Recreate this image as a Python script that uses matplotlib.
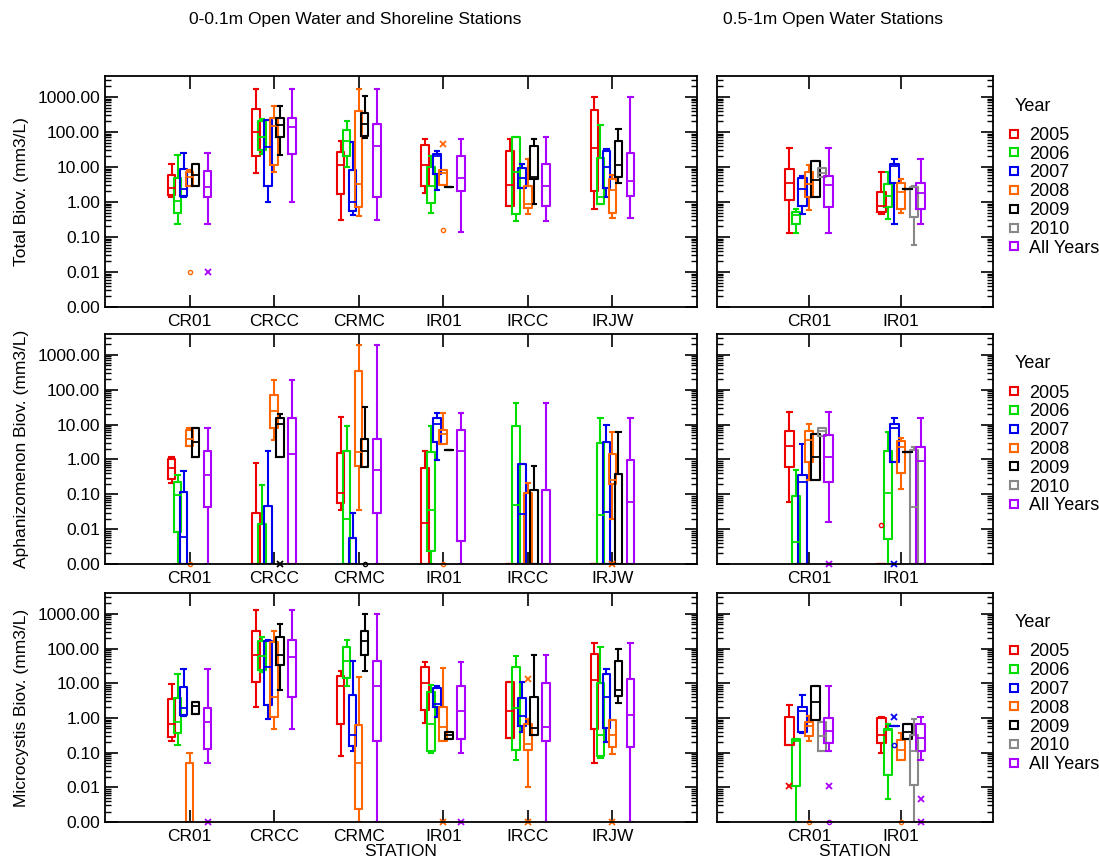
import numpy as np
import matplotlib.pyplot as plt
from matplotlib.lines import Line2D

plt.rcParams['font.family'] = ['Liberation Sans', 'DejaVu Sans']

YEARS = ['2005', '2006', '2007', '2008', '2009', '2010', 'All Years']
YEAR_COLORS = ['#ee0000', '#00dd00', '#0000ee', '#ff6600', '#000000', '#888888', '#aa00ff']
SHORE_STATIONS = ['CR01', 'CRCC', 'CRMC', 'IR01', 'IRCC', 'IRJW']
OPEN_STATIONS = ['CR01', 'IR01']
Y_TICKS = [0, 0.01, 0.1, 1, 10, 100, 1000]
Y_TICK_LABELS = ['0.00', '0.01', '0.10', '1.00', '10.00', '100.00', '1000.00']
ROW_LABELS = ['Total Biov. (mm3/L)', 'Aphanizomenon Biov. (mm3/L)', 'Microcystis Biov. (mm3/L)']

# box stats per station, one entry per year (2005..2010, All Years):
# (low whisker, q1, median, q3, high whisker); None = no samples that year
total_shore = {
    'CR01': [(1.4, 1.6, 2.5, 5.9, 12), (0.24, 0.49, 1.1, 5.0, 22), (1.35, 1.5, 2.3, 8.9, 26),
             (2.8, 2.8, 5.1, 7.4, 8.3), (2.8, 2.8, 5.9, 12, 12), None, (0.24, 1.4, 2.7, 7.8, 26)],
    'CRCC': [(6.6, 21, 98, 460, 1740), (23, 31, 71, 200, 240), (1.0, 2.9, 38, 214, 225),
             (7.4, 11.5, 145, 250, 540), (22, 74, 162, 250, 540), None, (1.0, 23, 137, 250, 1740)],
    'CRMC': [(0.30, 1.7, 11.5, 27, 54), (9.8, 20, 54, 115, 200), (0.42, 0.55, 0.97, 8.3, 51),
             (0.41, 0.74, 3.2, 390, 1740), (69, 78, 167, 350, 1100), None, (0.30, 1.35, 41, 170, 1740)],
    'IR01': [(1.85, 2.9, 11.5, 43, 63), (0.47, 0.91, 2.8, 10.2, 21), (2.2, 6.3, 20, 23, 29),
             (3.1, 3.1, 6.6, 8.3, 8.3), (2.6, 2.6, 2.6, 2.6, 2.6), None, (0.14, 2.1, 4.8, 21, 63)],
    'IRCC': [(0.77, 0.77, 3.1, 29, 63), (0.29, 0.46, 7.4, 74, 74), (2.5, 2.5, 4.8, 9.1, 12.3),
             (0.46, 0.69, 0.87, 2.8, 17), (0.85, 4.6, 5.1, 40, 63), None, (0.29, 0.77, 2.8, 12.3, 74)],
    'IRJW': [(0.62, 2.0, 35, 415, 980), (0.87, 0.87, 1.4, 18, 160), (1.4, 2.5, 10.2, 29, 32),
             (0.36, 0.47, 2.2, 4.5, 5.9), (3.4, 5.3, 11.5, 54, 124), None, (0.36, 1.5, 4.1, 26, 980)],
}
total_open = {
    'CR01': [(0.13, 1.14, 3.6, 8.7, 34), (0.13, 0.23, 0.43, 0.53, 0.63), (0.46, 0.77, 2.3, 4.8, 5.7),
             (0.59, 1.4, 3.3, 7.4, 11.5), (1.4, 1.4, 4.3, 15, 15), (5.1, 5.1, 6.9, 9.1, 9.1),
             (0.13, 0.70, 3.1, 5.7, 34)],
    'IR01': [(0.46, 0.53, 0.78, 1.9, 7.1), (0.32, 0.74, 1.5, 3.3, 7.1), (0.23, 3.5, 10.5, 12.5, 17),
             (0.47, 0.62, 1.9, 3.6, 4.5), (2.4, 2.4, 2.4, 2.4, 2.4), (0.059, 0.38, 2.6, 2.6, 2.8),
             (0.23, 0.63, 1.8, 3.6, 17)],
}
aphan_shore = {
    'CR01': [(0.21, 0.27, 0.56, 1.05, 1.2), (0, 0.0083, 0.097, 0.23, 0.35), (0, 0, 0.0059, 0.12, 0.48),
             (2.5, 2.5, 3.9, 7.2, 7.8), (1.2, 1.2, 3.1, 7.8, 7.8), None, (0, 0.042, 0.35, 1.8, 7.8)],
    'CRCC': [(0, 0, 0, 0.030, 0.79), (0, 0, 0, 0.014, 0.18), (0, 0, 0, 0.045, 1.8),
             (3.5, 8.1, 25, 69, 190), (1.2, 1.2, 10.5, 15, 20), None, (0, 0, 1.4, 15, 190)],
    'CRMC': [(0.036, 0.056, 0.11, 1.5, 16), (0, 0, 0.019, 1.8, 9.3), (0, 0, 0, 0.0055, 0.029),
             (0.036, 0.63, 1.6, 350, 1900), (0.59, 0.59, 1.8, 3.9, 32), None, (0, 0.029, 0.49, 3.9, 1900)],
    'IR01': [(0, 0, 0.015, 0.56, 1.7), (0, 0.0023, 0.036, 1.6, 9.0), (0.95, 3.2, 10.5, 15, 21),
             (2.7, 2.7, 5.4, 6.9, 21), (1.9, 1.9, 1.9, 1.9, 1.9), None, (0, 0.0047, 1.8, 6.9, 21)],
    'IRCC': [(0, 0, 0, 0, 0), (0, 0, 0.050, 9.3, 43), (0, 0, 0.027, 0.74, 0.74),
             (0, 0, 0, 0.11, 0.21), (0, 0, 0, 0.13, 0.63), None, (0, 0, 0, 0.13, 43)],
    'IRJW': [(0, 0, 0, 0, 0), (0, 0, 0.026, 2.9, 15), (0, 0, 0.032, 3.1, 10),
             (0.019, 0.20, 0.26, 1.4, 6.0), (0, 0, 0, 0.39, 6.0), None, (0, 0, 0.061, 0.95, 15)],
}
aphan_open = {
    'CR01': [(0.059, 0.60, 2.5, 6.5, 23), (0, 0, 0.0044, 0.087, 0.49), (0, 0, 0.22, 0.35, 2.8),
             (0.25, 0.85, 3.5, 6.5, 10.5), (0.26, 0.26, 1.2, 5.5, 5.5), (4.7, 4.7, 6.5, 8.1, 8.1),
             (0.016, 0.23, 1.2, 4.9, 23)],
    'IR01': [(0, 0, 0, 0, 0), (0, 0.0051, 0.11, 1.8, 6.2), (0.85, 0.85, 8.1, 10.5, 15.5),
             (0.14, 0.41, 2.2, 3.3, 4.2), (1.6, 1.6, 1.6, 1.6, 1.6), (0, 0, 0.043, 1.9, 2.2),
             (0, 0, 0.89, 2.2, 15.5)],
}
micro_shore = {
    'CR01': [(0.22, 0.29, 0.65, 3.5, 9.6), (0.17, 0.37, 0.76, 3.7, 19), (1.1, 1.2, 1.9, 7.7, 26),
             (0, 0, 0, 0.050, 0.098), (1.3, 1.3, 2.2, 2.9, 2.9), None, (0.050, 0.13, 0.76, 1.9, 26)],
    'CRCC': [(2.1, 10.7, 63, 315, 1300), (21, 24.5, 59, 163, 210), (0.95, 2.3, 30, 170, 180),
             (0.47, 1.05, 4.0, 150, 330), (6.2, 34, 63, 210, 510), None, (0.47, 4.0, 56, 180, 1300)],
    'CRMC': [(0.078, 0.65, 8.1, 16, 23), (8.1, 14.5, 43, 110, 180), (0.11, 0.16, 0.32, 4.7, 45),
             (0, 0.0023, 0.051, 0.63, 15), (22, 67, 162, 315, 1000), None, (0, 0.21, 8.1, 45, 1000)],
    'IR01': [(0.71, 1.7, 10, 30, 41), (0.097, 0.11, 0.67, 5.5, 9.1), (1.05, 2.1, 2.6, 7.3, 8.1),
             (0.22, 0.22, 0.55, 2.1, 27), (0.25, 0.25, 0.32, 0.39, 0.39), None, (0.097, 0.25, 1.55, 8.5, 41)],
    'IRCC': [(0.26, 0.26, 1.6, 10.7, 11.2), (0.063, 0.12, 1.9, 30, 59), (0.39, 0.60, 1.1, 3.7, 11.2),
             (0.010, 0.12, 0.18, 0.68, 0.95), (0.33, 0.33, 0.51, 4.0, 63), None, (0, 0.22, 0.55, 10, 63)],
    'IRJW': [(0.051, 0.49, 12.6, 70, 141), (0.069, 0.080, 0.32, 10.2, 110), (0.20, 0.52, 4.0, 18, 26),
             (0.093, 0.15, 0.33, 0.85, 0.85), (2.7, 4.2, 6.5, 45, 98), None, (0, 0.15, 1.2, 13, 141)],
}
micro_open = {
    'CR01': [(0.17, 0.17, 0.17, 1.05, 2.4), (0, 0.011, 0.22, 0.25, 0.25), (0.37, 0.39, 1.6, 2.1, 4.5),
             (0.21, 0.30, 0.57, 0.76, 1.1), (0.85, 0.85, 2.8, 8.5, 8.5), (0.11, 0.11, 0.30, 0.76, 0.76),
             (0.11, 0.19, 0.41, 1.0, 8.5)],
    'IR01': [(0.10, 0.19, 0.33, 1.0, 1.05), (0.0047, 0.022, 0.45, 0.49, 0.65), (0.60, 0.60, 0.60, 0.60, 0.60),
             (0.060, 0.060, 0.12, 0.23, 0.37), (0.25, 0.25, 0.39, 0.65, 0.65), (0, 0.012, 0.115, 0.33, 0.95),
             (0.060, 0.115, 0.27, 0.65, 1.05)],
}

# outliers: (station, year index, value, marker)
total_shore_out = [('CR01', 3, 0.01, 'o'), ('CR01', 6, 0.01, 'x'), ('IR01', 3, 46, 'x'), ('IR01', 3, 0.16, 'o')]
total_open_out = []
aphan_shore_out = [('CR01', 3, 0, 'o'), ('CRCC', 4, 0, 'x'), ('CRMC', 4, 0, 'o'),
                   ('IR01', 3, 0, 'o'), ('IRJW', 3, 0, 'x')]
aphan_open_out = [('CR01', 6, 0, 'x'), ('IR01', 0, 0.013, 'o'), ('IR01', 2, 0, 'x')]
micro_shore_out = [('CR01', 6, 0, 'x'), ('IR01', 3, 0, 'x'), ('IR01', 6, 0, 'x'), ('IRCC', 3, 13, 'x'),
                   ('IRCC', 3, 0, 'x'), ('IRJW', 3, 0, 'x')]
micro_open_out = [('CR01', 0, 0.011, 'x'), ('CR01', 3, 0, 'o'), ('CR01', 6, 0.011, 'x'), ('CR01', 6, 0, 'o'),
                  ('IR01', 2, 1.05, 'x'), ('IR01', 2, 0.17, 'o'), ('IR01', 3, 0, 'o'),
                  ('IR01', 6, 0.0047, 'x'), ('IR01', 6, 0, 'x')]

SLOT = 0.071
BOX_W = 0.09


def fwd(y):
    return np.log10(np.maximum(y, 1e-3))


def inv(y):
    return 10.0 ** y


def draw_panel(ax, stations, stats, outliers):
    for i, color in enumerate(YEAR_COLORS):
        bstats, pos = [], []
        for j, st in enumerate(stations):
            s = stats[st][i]
            if s is None:
                continue
            lo, q1, med, q3, hi = s
            bstats.append(dict(whislo=lo, q1=q1, med=med, q3=q3, whishi=hi, fliers=[]))
            pos.append(j + 1 + (i - 3) * SLOT)
        if not bstats:
            continue
        lp = dict(color=color, lw=1.5)
        ax.bxp(bstats, positions=pos, widths=BOX_W, capwidths=0.05, showfliers=False,
               boxprops=lp, whiskerprops=lp, capprops=lp, medianprops=dict(color=color, lw=1.3),
               manage_ticks=False)
    for st, i, val, mk in outliers:
        x = stations.index(st) + 1 + (i - 3) * SLOT
        if mk == 'o':
            ax.plot(x, val, 'o', ms=3, mfc='none', mec=YEAR_COLORS[i], mew=1, clip_on=False)
        else:
            ax.plot(x, val, 'x', ms=5, color=YEAR_COLORS[i], mew=1.3, clip_on=False)

    ax.set_yscale('function', functions=(fwd, inv))
    ax.set_ylim(0, 10 ** 3.6)
    ax.set_xlim(0, len(stations) + 1)
    ax.set_xticks(range(1, len(stations) + 1))
    ax.set_xticklabels(stations, fontsize=12.5)
    ax.set_yticks(Y_TICKS)
    ax.set_yticklabels(Y_TICK_LABELS, fontsize=12.5)
    minors = [m * 10.0 ** k for k in range(-3, 4) for m in range(2, 10) if m * 10.0 ** k < 10 ** 3.6]
    ax.set_yticks(minors, minor=True)
    ax.yaxis.set_minor_formatter(plt.NullFormatter())
    ax.tick_params(axis='y', which='major', direction='in', left=True, right=True, length=9, width=1.2)
    ax.tick_params(axis='y', which='minor', direction='in', left=True, right=True, length=4.5, width=1)
    ax.tick_params(axis='x', which='major', direction='in', top=True, bottom=True, length=9, width=1.2, pad=5)
    ax.tick_params(axis='x', which='minor', bottom=False, top=False)
    for sp in ax.spines.values():
        sp.set_linewidth(1.3)


fig = plt.figure(figsize=(10.99, 8.67), dpi=100)

rows = [(0.6459, 0.2664), (0.3495, 0.2653), (0.0519, 0.2641)]
shore_data = [(total_shore, total_shore_out), (aphan_shore, aphan_shore_out), (micro_shore, micro_shore_out)]
open_data = [(total_open, total_open_out), (aphan_open, aphan_open_out), (micro_open, micro_open_out)]

handles = [Line2D([], [], ls='none', marker='s', ms=6, mfc='none', mec=c, mew=1.5) for c in YEAR_COLORS]

for r, (bottom, height) in enumerate(rows):
    ax_l = fig.add_axes([0.0955, bottom, 0.5387, height])
    ax_r = fig.add_axes([0.6524, bottom, 0.2511, height])
    draw_panel(ax_l, SHORE_STATIONS, *shore_data[r])
    draw_panel(ax_r, OPEN_STATIONS, *open_data[r])
    ax_r.tick_params(axis='y', which='both', labelleft=False)
    fig.text(0.02, bottom + height / 2, ROW_LABELS[r], rotation=90, ha='center', va='center', fontsize=12.5)

    ax_r.text(1.08, 0.87, 'Year', transform=ax_r.transAxes, ha='left', va='center', fontsize=13)
    ax_r.legend(handles, YEARS, loc='upper left', bbox_to_anchor=(1.045, 0.78), frameon=False,
                fontsize=13, borderpad=0, borderaxespad=0, labelspacing=0.1,
                handlelength=1.0, handletextpad=0.3)
    if r == 2:
        ax_l.set_xlabel('STATION', fontsize=12.5, labelpad=0)
        ax_r.set_xlabel('STATION', fontsize=12.5, labelpad=0)

fig.text(0.323, 0.977, '0-0.1m Open Water and Shoreline Stations', ha='center', va='center', fontsize=12.5)
fig.text(0.758, 0.977, '0.5-1m Open Water Stations', ha='center', va='center', fontsize=12.5)

fig.savefig('out.png', dpi=100)
